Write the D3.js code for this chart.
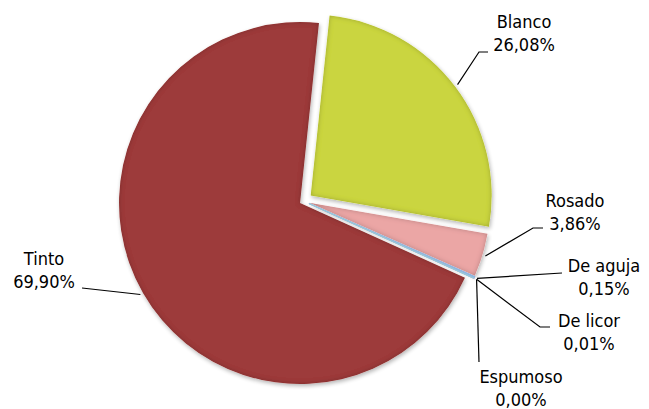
<!DOCTYPE html>
<head>
<meta charset="utf-8">
<title>Vino por tipo</title>
<style>
body { margin: 0; background: #fff; }
text {
  fill: #000;
  font-family: "DejaVu Sans Condensed", "DejaVu Sans", sans-serif;
  font-size: 18px;
}
path.leader {
  fill: none;
  stroke: #000;
  stroke-width: 1.2px;
}
</style>
</head>
<body>
<script src="https://cdn.jsdelivr.net/npm/d3@7"></script>
<script>
// data
var categories = ["Blanco", "Rosado", "De aguja", "De licor", "Espumoso", "Tinto"];
var shares = [26.08, 3.86, 0.15, 0.01, 0.00, 69.90];

var colors = ["#cad53f", "#eba6a5", "#8db4e2", "#b3a2c7", "#93cddd", "#9d3b3a"];

var width = 649,
    height = 409;

var cx = 303.5, cy = 201, radius = 181;
var firstAngle = 6 * Math.PI / 180;

// how far each slice is pulled out
var explode = {"Blanco": 9, "Rosado": 6, "De aguja": 6, "De licor": 6, "Espumoso": 6, "Tinto": 4};

// label boxes: centre x, first baseline, and leader path points after the slice point
var labelPos = {
  "Blanco":   {x: 524, y: 28,  leader: [[479, 52], [488, 52]]},
  "Rosado":   {x: 575, y: 207, leader: [[533, 228], [543, 228]]},
  "De aguja": {x: 604, y: 272, leader: [[562, 273]]},
  "De licor": {x: 589, y: 327, leader: [[540, 327], [550, 327]]},
  "Espumoso": {x: 521, y: 383, leader: [[479, 362]]},
  "Tinto":    {x: 44,  y: 265, leader: [[82, 288]]}
};

var es = d3.formatLocale({decimal: ",", thousands: ".", grouping: [3], currency: ["", "€"]});
var fmt = es.format(".2f");

var data = categories.map(function(c, i) {
  return {name: c, value: shares[i], color: colors[i]};
});

var pie = d3.pie()
  .sort(null)
  .value(function(d) { return d.value; })
  .startAngle(firstAngle)
  .endAngle(firstAngle + 2 * Math.PI);

var arc = d3.arc().innerRadius(0).outerRadius(radius);
var edgeArc = d3.arc().innerRadius(radius + 3).outerRadius(radius + 3);

var svg = d3.select("body").append("svg")
  .attr("width", width)
  .attr("height", height);

// soft rim + shadow, roughly like the office bevel
var defs = svg.append("defs");
var f = defs.append("filter").attr("id", "bevel")
  .attr("x", "-10%").attr("y", "-10%").attr("width", "120%").attr("height", "120%");
f.append("feGaussianBlur").attr("in", "SourceAlpha").attr("stdDeviation", 2.5).attr("result", "blur");
// rim = alpha minus blurred alpha
f.append("feComposite").attr("in", "SourceAlpha").attr("in2", "blur")
  .attr("operator", "arithmetic").attr("k2", 1).attr("k3", -1).attr("result", "rim");
f.append("feFlood").attr("flood-color", "#000").attr("flood-opacity", 0.45).attr("result", "dark");
f.append("feComposite").attr("in", "dark").attr("in2", "rim").attr("operator", "in").attr("result", "darkRim");
f.append("feGaussianBlur").attr("in", "SourceAlpha").attr("stdDeviation", 2).attr("result", "sblur");
f.append("feOffset").attr("in", "sblur").attr("dx", 1).attr("dy", 2).attr("result", "soff");
f.append("feComponentTransfer").attr("in", "soff").attr("result", "shadow")
  .append("feFuncA").attr("type", "linear").attr("slope", 0.3);
var merge = f.append("feMerge");
merge.append("feMergeNode").attr("in", "shadow");
merge.append("feMergeNode").attr("in", "SourceGraphic");
merge.append("feMergeNode").attr("in", "darkRim");

var arcs = pie(data);

function offset(d) {
  var mid = (d.startAngle + d.endAngle) / 2;
  var e = explode[d.data.name];
  return [cx + e * Math.sin(mid), cy - e * Math.cos(mid)];
}

var slices = svg.append("g");

// draw small slices last so the slivers show on top
var order = arcs.slice().sort(function(a, b) { return b.value - a.value; });

slices.selectAll("path")
  .data(order)
  .enter().append("path")
  .attr("transform", function(d) { return "translate(" + offset(d) + ")"; })
  .attr("d", arc)
  .attr("fill", function(d) { return d.data.color; })
  .attr("stroke", function(d) { return d.value < 1 ? d.data.color : "none"; })
  .attr("stroke-width", 1.2)
  .attr("filter", function(d) { return d.value < 1 ? null : "url(#bevel)"; });

// leader lines
svg.append("g").selectAll("path")
  .data(arcs)
  .enter().append("path")
  .attr("class", "leader")
  .attr("d", function(d) {
    var o = offset(d);
    var p = edgeArc.centroid(d);
    var pts = [[o[0] + p[0], o[1] + p[1]]].concat(labelPos[d.data.name].leader);
    return d3.line()(pts);
  });

// labels
var lab = svg.append("g").selectAll("text")
  .data(arcs)
  .enter().append("text")
  .attr("text-anchor", "middle")
  .attr("x", function(d) { return labelPos[d.data.name].x; })
  .attr("y", function(d) { return labelPos[d.data.name].y; });

lab.append("tspan")
  .text(function(d) { return d.data.name; });

lab.append("tspan")
  .attr("x", function(d) { return labelPos[d.data.name].x; })
  .attr("dy", 23)
  .text(function(d) { return fmt(d.data.value) + "%"; });
</script>
</body>
</html>
